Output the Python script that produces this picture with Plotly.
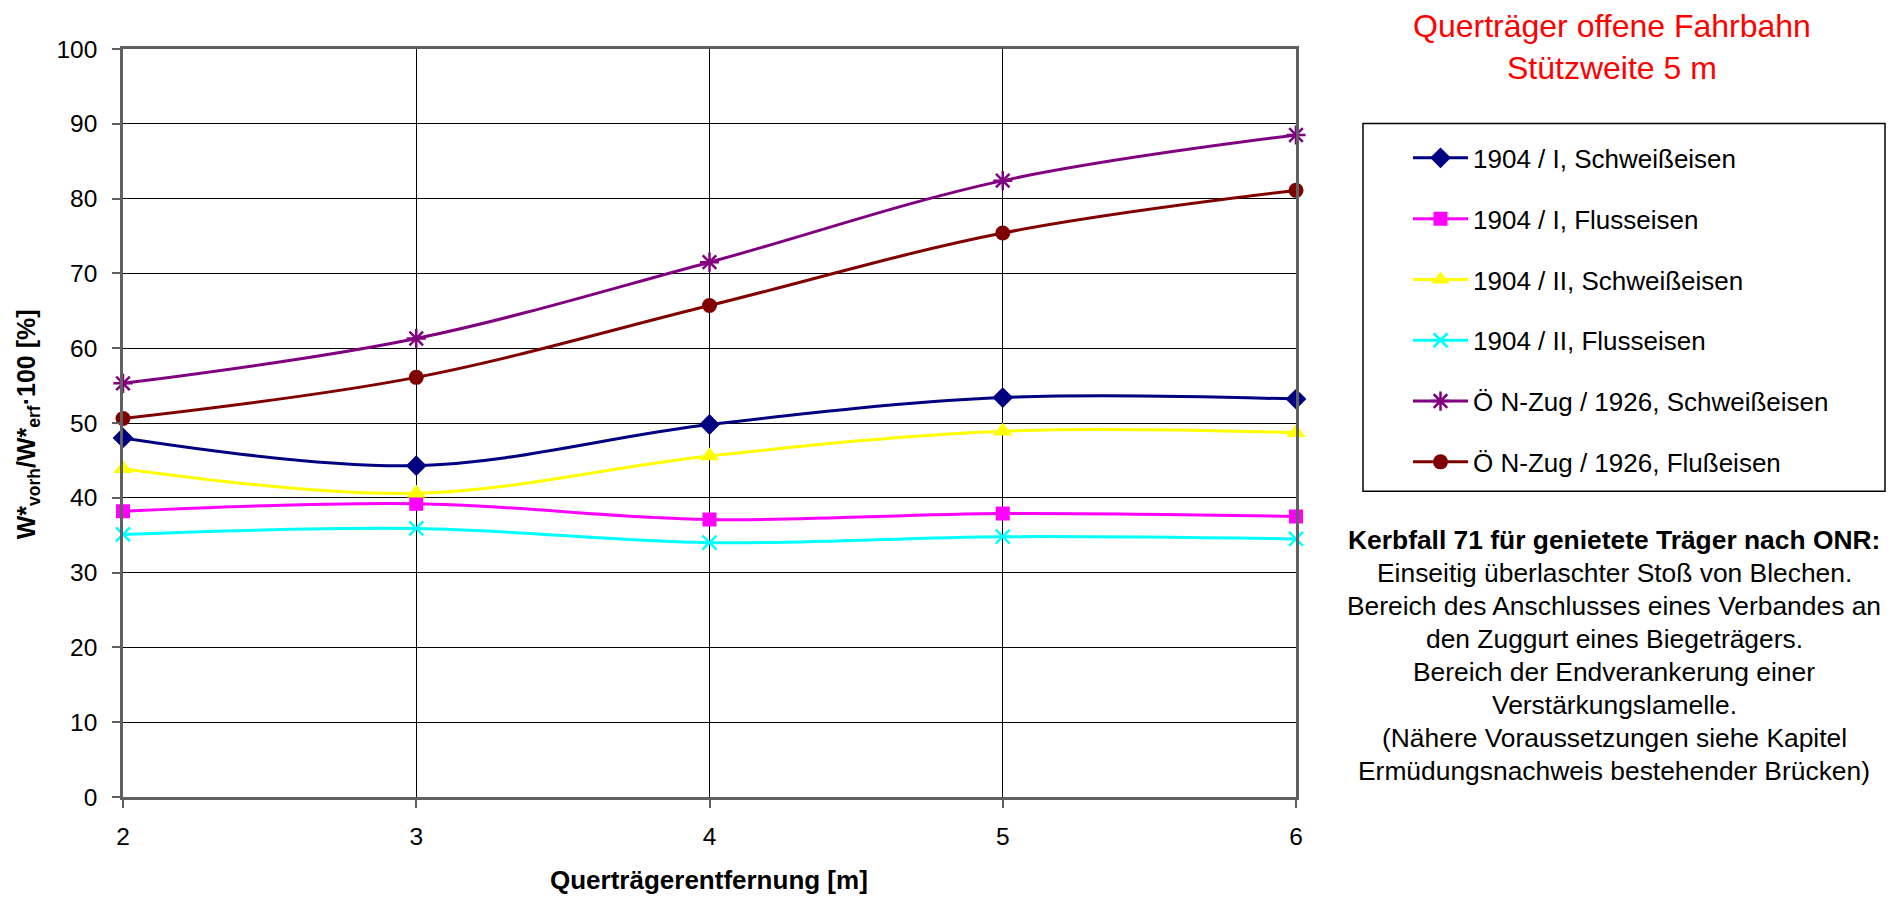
import plotly.graph_objects as go

# ---- data ----
x_vals = [2, 3, 4, 5, 6]
series_names = [
    "1904 / I, Schweißeisen",
    "1904 / I, Flusseisen",
    "1904 / II, Schweißeisen",
    "1904 / II, Flusseisen",
    "Ö N-Zug / 1926, Schweißeisen",
    "Ö N-Zug / 1926, Flußeisen",
]
s1_904_I_schweiss = [48.0, 44.3, 49.8, 53.4, 53.2]
s2_904_I_fluss = [38.2, 39.2, 37.1, 37.9, 37.5]
s3_904_II_schweiss = [43.9, 40.6, 45.6, 48.9, 48.7]
s4_904_II_fluss = [35.1, 35.9, 34.0, 34.8, 34.5]
s5_oen_schweiss = [55.3, 61.3, 71.5, 82.4, 88.5]
s6_oen_fluss = [50.6, 56.1, 65.7, 75.4, 81.1]
y_ticks = [0, 10, 20, 30, 40, 50, 60, 70, 80, 90, 100]
x_ticks = [2, 3, 4, 5, 6]

title_text = "Querträger offene Fahrbahn<br>Stützweite 5 m"
note_lines = [
    "<b>Kerbfall 71 für genietete Träger nach ONR:</b>",
    "Einseitig überlaschter Stoß von Blechen.",
    "Bereich des Anschlusses eines Verbandes an",
    "den Zuggurt eines Biegeträgers.",
    "Bereich der Endverankerung einer",
    "Verstärkungslamelle.",
    "(Nähere Voraussetzungen siehe Kapitel",
    "Ermüdungsnachweis bestehender Brücken)",
]

# ---- geometry (page pixels) ----
W, H = 1899, 897
L, R, T, B = 123, 1296, 48.5, 797
FONT = "Liberation Sans, Arial, sans-serif"

def px_x(p):
    return (p - L) / (R - L)

def px_y(p):
    return (B - p) / (B - T)

styles = [
    dict(color="#000080", symbol="diamond", size=16, lw=0),
    dict(color="#FF00FF", symbol="square", size=14, lw=0),
    dict(color="#FFFF00", symbol="triangle-up", size=17, lw=0),
    dict(color="#00FFFF", symbol="x-thin-open", size=14, lw=2.5),
    dict(color="#800080", symbol="asterisk-open", size=16, lw=2.5),
    dict(color="#800000", symbol="circle", size=15, lw=0),
]
data = [s1_904_I_schweiss, s2_904_I_fluss, s3_904_II_schweiss,
        s4_904_II_fluss, s5_oen_schweiss, s6_oen_fluss]

fig = go.Figure()
for i, (name, ys, st) in enumerate(zip(series_names, data, styles)):
    fig.add_trace(go.Scatter(
        x=x_vals, y=ys, name=name, mode="lines+markers",
        line=dict(color=st["color"], width=3, shape="spline", smoothing=1),
        marker=dict(symbol=st["symbol"], size=st["size"], color=st["color"],
                    line=dict(color=st["color"], width=st["lw"])),
        cliponaxis=False, legendgroup=f"g{i}",
    ))

fig.update_layout(
    width=W, height=H,
    margin=dict(l=L, r=W - R, t=T, b=H - B, pad=0),
    paper_bgcolor="white", plot_bgcolor="white",
    font=dict(family=FONT, size=24, color="black"),
    showlegend=True,
    legend=dict(
        x=px_x(1408), y=px_y(134), xanchor="left", yanchor="top",
        bgcolor="rgba(0,0,0,0)", borderwidth=0,
        font=dict(family=FONT, size=26, color="black"),
        tracegroupgap=24, itemwidth=55, traceorder="grouped",
    ),
    xaxis=dict(
        range=[2, 6], tickvals=x_ticks, ticktext=[str(v) for v in x_ticks],
        showgrid=True, gridcolor="black", gridwidth=1,
        showline=True, linecolor="#606060", linewidth=2.5, mirror=True,
        ticks="outside", ticklen=8, tickcolor="#606060", tickwidth=2,
        ticklabelstandoff=8, zeroline=False,
        tickfont=dict(family=FONT, size=24.5, color="black"),
    ),
    yaxis=dict(
        range=[0, 100], tickvals=y_ticks, ticktext=[str(v) for v in y_ticks],
        showgrid=True, gridcolor="black", gridwidth=1,
        showline=True, linecolor="#606060", linewidth=2.5, mirror=True,
        ticks="outside", ticklen=8, tickcolor="#606060", tickwidth=2,
        ticklabelstandoff=10, zeroline=False,
        tickfont=dict(family=FONT, size=24.5, color="black"),
    ),
)

# legend box
fig.add_shape(type="rect", xref="paper", yref="paper",
              x0=px_x(1363), x1=px_x(1885), y0=px_y(491), y1=px_y(123),
              line=dict(color="black", width=1.5), fillcolor="rgba(0,0,0,0)")

# title (top right, red)
fig.add_annotation(text=title_text, xref="paper", yref="paper",
                   x=px_x(1612), y=px_y(46), xanchor="center", yanchor="middle",
                   showarrow=False, align="center",
                   font=dict(family=FONT, size=32, color="red"))

# explanatory note, one annotation per line
for i, line in enumerate(note_lines):
    fig.add_annotation(text=line, xref="paper", yref="paper",
                       x=px_x(1614), y=px_y(540 + 33 * i),
                       xanchor="center", yanchor="middle",
                       showarrow=False, align="center",
                       font=dict(family=FONT, size=26.4, color="black"))

# axis titles
fig.add_annotation(text="<b>W*<sub>vorh</sub>/W*<sub>erf</sub>·100 [%]</b>",
                   xref="paper", yref="paper", x=px_x(28), y=px_y(424),
                   xanchor="center", yanchor="middle", textangle=-90,
                   showarrow=False, font=dict(family=FONT, size=25, color="black"))
fig.add_annotation(text="<b>Querträgerentfernung [m]</b>",
                   xref="paper", yref="paper", x=px_x(709), y=px_y(880),
                   xanchor="center", yanchor="middle",
                   showarrow=False, font=dict(family=FONT, size=26, color="black"))

fig.write_html("out.html",
               config={"displayModeBar": False},
               post_script="document.body.style.margin='0px';"
                           "document.body.style.overflow='hidden';")
